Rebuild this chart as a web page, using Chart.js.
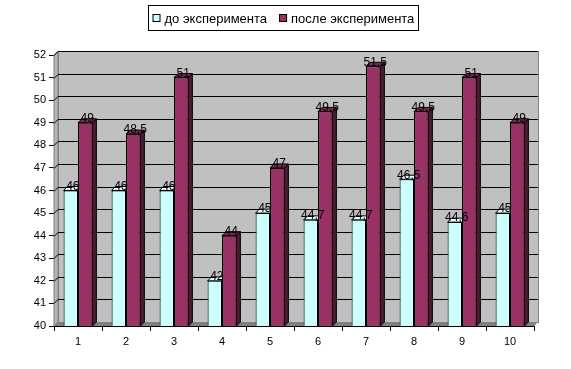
<!DOCTYPE html>
<html><head><meta charset="utf-8">
<script src="https://cdn.jsdelivr.net/npm/chart.js@4/dist/chart.umd.min.js"></script>
<style>html,body{margin:0;padding:0;background:#fff}#w{width:571px;height:369px}</style>
</head><body><div id="w"><canvas id="c" width="571" height="369"></canvas></div>
<script>
const categories = ['1','2','3','4','5','6','7','8','9','10'];
const before = [46, 46, 46, 42, 45, 44.7, 44.7, 46.5, 44.6, 45];
const after = [49, 48.5, 51, 44, 47, 49.5, 51.5, 49.5, 51, 49];
const seriesNames = ['до эксперимента', 'после эксперимента'];
const yMin = 40, yMax = 52;

const D = 4; // 3D depth
const FONT = '"Liberation Sans", Arial, sans-serif';
const sideCol = ['#8CB3B3', '#4D1A33'];
const topCol = ['#E6FFFF', '#7A2952'];

const threeD = {
  id: 'threeD',
  beforeDatasetsDraw(chart) {
    const ctx = chart.ctx, a = chart.chartArea, y = chart.scales.y;
    ctx.save();
    ctx.fillStyle = '#C0C0C0';
    ctx.fillRect(a.left + D, a.top - D, a.right - a.left, a.bottom - a.top);
    ctx.beginPath();
    ctx.moveTo(a.left, a.top); ctx.lineTo(a.left + D, a.top - D);
    ctx.lineTo(a.left + D, a.bottom - D); ctx.lineTo(a.left, a.bottom); ctx.closePath();
    ctx.fillStyle = '#B4B4B4'; ctx.fill();
    ctx.strokeStyle = '#808080'; ctx.lineWidth = 1; ctx.stroke();
    ctx.strokeStyle = '#808080';
    ctx.strokeRect(a.left + D + 0.5, a.top - D + 0.5, a.right - a.left, a.bottom - a.top);
    ctx.strokeStyle = '#000';
    for (let v = yMin + 1; v <= yMax; v++) {
      const py = Math.round(y.getPixelForValue(v)) - D + 0.5;
      ctx.beginPath(); ctx.moveTo(a.left + D, py); ctx.lineTo(a.right + D, py); ctx.stroke();
      ctx.beginPath(); ctx.moveTo(a.left, py + D); ctx.lineTo(a.left + D, py); ctx.stroke();
    }
    ctx.beginPath();
    ctx.moveTo(a.left, a.bottom); ctx.lineTo(a.right, a.bottom);
    ctx.lineTo(a.right + D, a.bottom - D); ctx.lineTo(a.left + D, a.bottom - D); ctx.closePath();
    ctx.fillStyle = '#808080'; ctx.fill();
    chart.data.datasets.forEach((ds, i) => {
      chart.getDatasetMeta(i).data.forEach(bar => {
        const l = bar.x - bar.width / 2, r = bar.x + bar.width / 2, t = bar.y;
        const b = Math.min(bar.base, a.bottom);
        ctx.strokeStyle = '#000'; ctx.lineWidth = 1;
        ctx.beginPath();
        ctx.moveTo(r, t); ctx.lineTo(r + D, t - D); ctx.lineTo(r + D, b - D); ctx.lineTo(r, b); ctx.closePath();
        ctx.fillStyle = sideCol[i]; ctx.fill(); ctx.stroke();
        ctx.beginPath();
        ctx.moveTo(l, t); ctx.lineTo(l + D, t - D); ctx.lineTo(r + D, t - D); ctx.lineTo(r, t); ctx.closePath();
        ctx.fillStyle = topCol[i]; ctx.fill(); ctx.stroke();
      });
    });
    ctx.restore();
  },
  afterDatasetsDraw(chart) {
    const ctx = chart.ctx;
    ctx.save();
    ctx.font = '12px ' + FONT;
    ctx.fillStyle = '#000';
    ctx.textAlign = 'center';
    ctx.textBaseline = 'bottom';
    chart.data.datasets.forEach((ds, i) => {
      chart.getDatasetMeta(i).data.forEach((bar, j) => {
        const txt = String(ds.data[j]).replace('.', ',');
        ctx.fillText(txt, bar.x + 2, bar.y + 2);
      });
    });
    ctx.restore();
  },
  afterDraw(chart) {
    const ctx = chart.ctx;
    ctx.save();
    ctx.font = '13px ' + FONT;
    const sw = 8, gap = 4, sep = 12, pad = 4;
    const w0 = ctx.measureText(seriesNames[0]).width, w1 = ctx.measureText(seriesNames[1]).width;
    const inner = sw + gap + w0 + sep + sw + gap + w1;
    const boxW = Math.round(inner + 2 * pad), boxH = 25;
    const bx = Math.round((143 + 422) / 2 - boxW / 2) + 0.5, by = 5.5;
    ctx.fillStyle = '#fff'; ctx.fillRect(bx, by, boxW, boxH);
    ctx.strokeStyle = '#000'; ctx.lineWidth = 1; ctx.strokeRect(bx, by, boxW, boxH);
    let x = bx + pad; const cy = by + boxH / 2;
    const cols = ['#CCFFFF', '#993366'];
    ctx.textBaseline = 'middle'; ctx.textAlign = 'left';
    [0, 1].forEach(i => {
      ctx.fillStyle = cols[i]; ctx.fillRect(x, cy - 4, sw, sw);
      ctx.strokeStyle = '#000'; ctx.strokeRect(x + 0.5, cy - 3.5, sw - 1, sw - 1);
      x += sw + gap;
      ctx.fillStyle = '#000'; ctx.fillText(seriesNames[i], x, cy + 1);
      x += (i === 0 ? w0 : w1) + sep;
    });
    ctx.restore();
  }
};

new Chart(document.getElementById('c'), {
  type: 'bar',
  data: {
    labels: categories,
    datasets: [
      { label: seriesNames[0], data: before, backgroundColor: '#CCFFFF', borderColor: '#000', borderWidth: 1 },
      { label: seriesNames[1], data: after, backgroundColor: '#993366', borderColor: '#000', borderWidth: 1 }
    ]
  },
  options: {
    responsive: false, animation: false,
    datasets: { bar: { categoryPercentage: 0.6, barPercentage: 1.0 } },
    layout: { padding: { top: 55, right: 37, left: 0, bottom: 0 } },
    plugins: { legend: { display: false }, tooltip: { enabled: false } },
    scales: {
      x: {
        grid: { drawOnChartArea: false, offset: true, color: '#000', tickLength: 5 },
        border: { color: '#000' },
        ticks: { color: '#000', font: { family: FONT, size: 11 }, padding: 4 },
        afterFit(s) { s.height = 43; }
      },
      y: {
        min: yMin, max: yMax,
        grid: { drawOnChartArea: false, color: '#000', tickLength: 5 },
        border: { color: '#000' },
        ticks: { stepSize: 1, color: '#000', font: { family: FONT, size: 11 }, padding: 3 },
        afterFit(s) { s.width = 54; }
      }
    }
  },
  plugins: [threeD]
});
</script>
</body></html>
